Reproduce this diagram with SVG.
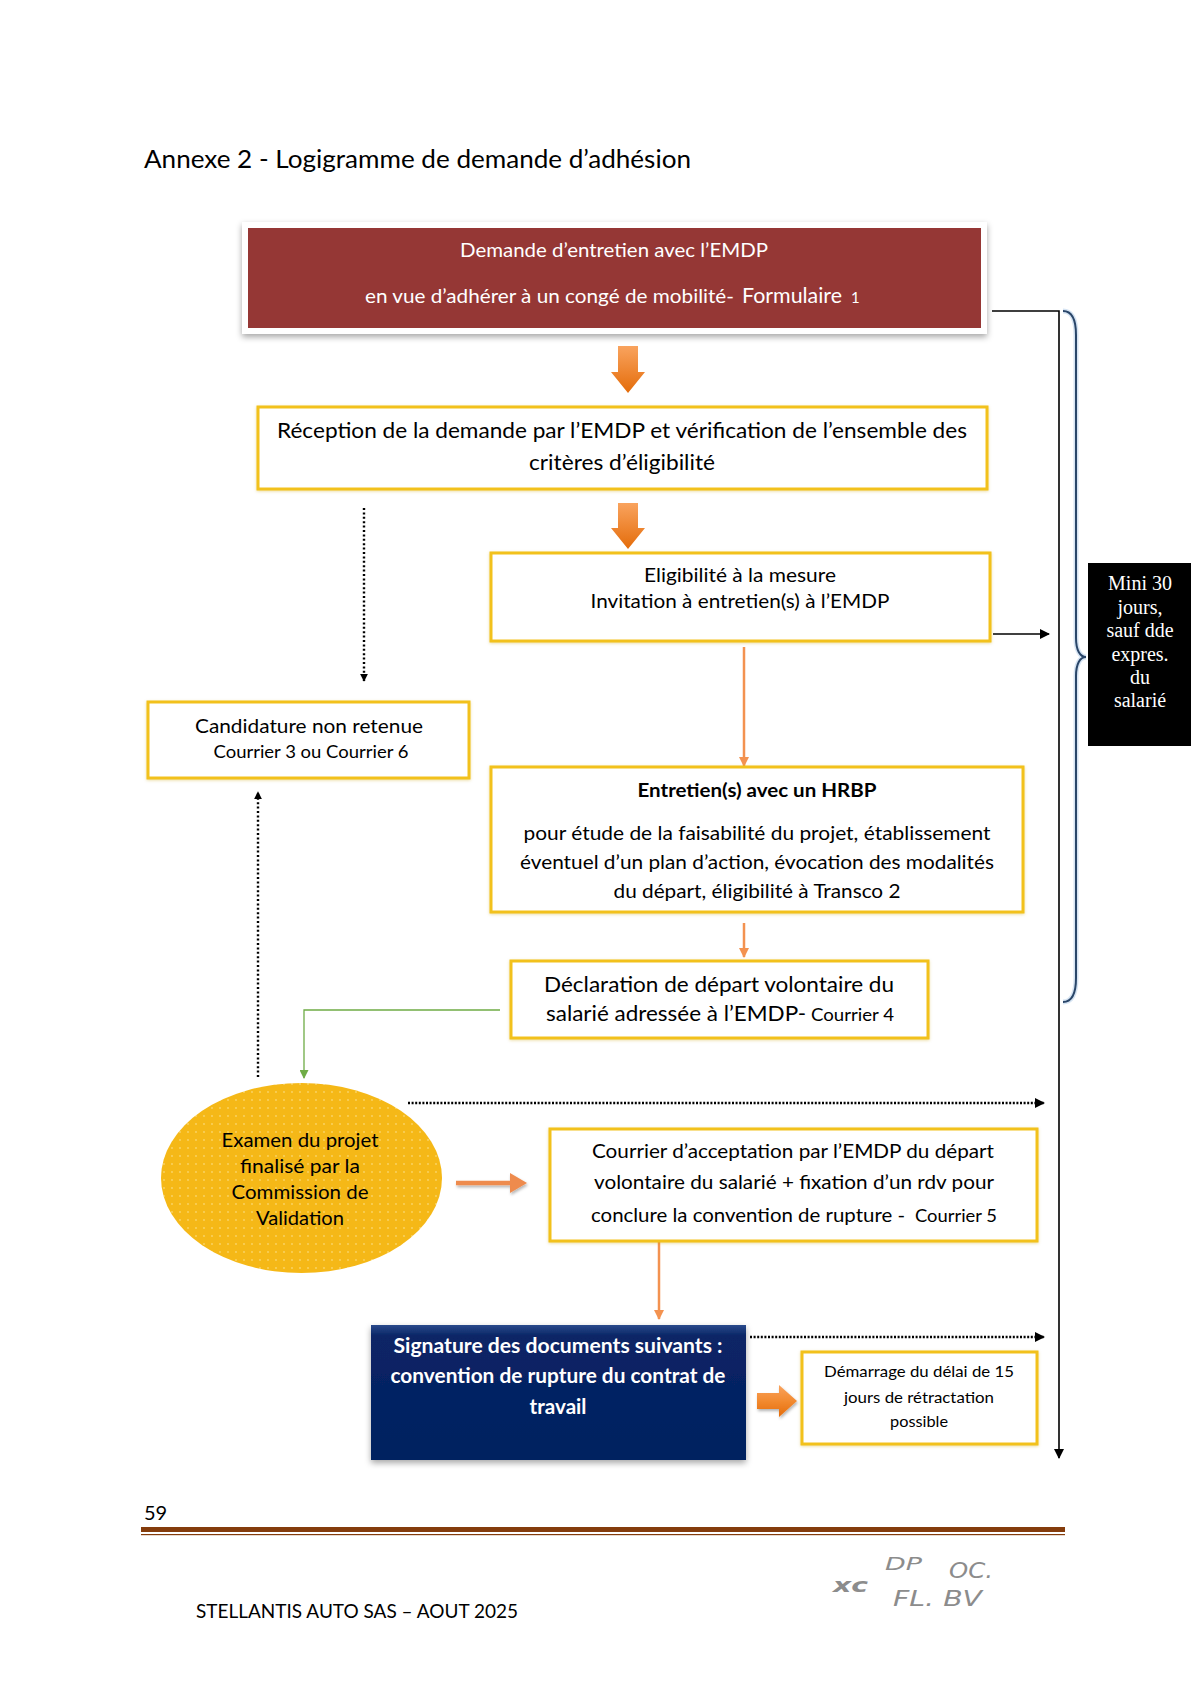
<svg xmlns="http://www.w3.org/2000/svg" width="1200" height="1696" viewBox="0 0 1200 1696">
<defs>
<style>
.t{font-family:Lato,'Liberation Sans',sans-serif;fill:#000}
.w{fill:#fff}
.box{fill:#fff;stroke:#F2C11C;stroke-width:3}
.dot{fill:none;stroke:#000;stroke-width:2.4;stroke-dasharray:2 2.4}
.doth{fill:none;stroke:#000;stroke-width:2.6;stroke-dasharray:2 1.6}
.ol{fill:none;stroke:#F39250;stroke-width:2.5}
.blk{fill:none;stroke:#000;stroke-width:1.6}
.serif{font-family:'Liberation Serif','Times New Roman',serif;fill:#fff;font-size:20px}
.hand{font-family:'DejaVu Sans',sans-serif;fill:#8c8c8c;font-style:italic}
</style>
<marker id="ab" viewBox="0 0 10 10" refX="9" refY="5" markerWidth="8" markerHeight="8" markerUnits="userSpaceOnUse" orient="auto"><path d="M0,0 L10,5 L0,10 Z" fill="#000"/></marker>
<marker id="abl" viewBox="0 0 10 10" refX="9" refY="5" markerWidth="10" markerHeight="10" markerUnits="userSpaceOnUse" orient="auto"><path d="M0,0 L10,5 L0,10 Z" fill="#000"/></marker>
<marker id="ao" viewBox="0 0 10 10" refX="9" refY="5" markerWidth="12" markerHeight="10" markerUnits="userSpaceOnUse" orient="auto"><path d="M0,0 L10,5 L0,10 Z" fill="#F39250"/></marker>
<marker id="ag" viewBox="0 0 10 10" refX="9" refY="5" markerWidth="10" markerHeight="9" markerUnits="userSpaceOnUse" orient="auto"><path d="M0,0 L10,5 L0,10 Z" fill="#6FAC46"/></marker>
<filter id="sh" x="-10%" y="-20%" width="120%" height="150%"><feDropShadow dx="0" dy="3" stdDeviation="3" flood-color="#000" flood-opacity="0.35"/></filter>
<filter id="sh2" x="-10%" y="-20%" width="120%" height="150%"><feDropShadow dx="0" dy="1" stdDeviation="1.5" flood-color="#C9A000" flood-opacity="0.35"/></filter>
<filter id="sh3" x="-20%" y="-50%" width="140%" height="200%"><feDropShadow dx="1" dy="2" stdDeviation="1.5" flood-color="#000" flood-opacity="0.3"/></filter>
<linearGradient id="og" x1="0" y1="0" x2="0" y2="1"><stop offset="0" stop-color="#F9A35E"/><stop offset="1" stop-color="#E46C0A"/></linearGradient>
<linearGradient id="ogh" x1="0" y1="0" x2="0" y2="1"><stop offset="0" stop-color="#F9A35E"/><stop offset="0.5" stop-color="#F28A30"/><stop offset="1" stop-color="#E46C0A"/></linearGradient>
<linearGradient id="ng" x1="0" y1="0" x2="0" y2="1"><stop offset="0" stop-color="#2A4A8C"/><stop offset="0.08" stop-color="#0A2566"/><stop offset="1" stop-color="#002060"/></linearGradient>
<pattern id="dots" width="8" height="8" patternUnits="userSpaceOnUse"><rect width="8" height="8" fill="#F5B817"/><circle cx="4" cy="4" r="0.9" fill="#FAD568"/></pattern>
</defs>

<!-- page title -->
<text class="t" x="144" y="168" font-size="24.5" textLength="547" lengthAdjust="spacingAndGlyphs">Annexe 2 - Logigramme de demande d’adhésion</text>

<!-- connectors -->
<g id="connectors">
  <path d="M618,346 H638 V372 H645 L628,393 L611,372 H618 Z" fill="url(#og)"/>
  <path d="M618,503 H638 V528 H645 L628,549 L611,528 H618 Z" fill="url(#og)"/>
  <path d="M992,311 H1059 V1458" class="blk" marker-end="url(#abl)"/>
  <path d="M993,634 H1049" class="blk" marker-end="url(#abl)"/>
  <path d="M1063,311 C1072,311 1076,320 1076,335 V638 C1076,650 1080,657 1086,657 C1080,657 1076,664 1076,676 V978 C1076,993 1072,1002 1063,1002" fill="none" stroke="#D6E4F3" stroke-width="5"/>
  <path d="M1063,311 C1072,311 1076,320 1076,335 V638 C1076,650 1080,657 1086,657 C1080,657 1076,664 1076,676 V978 C1076,993 1072,1002 1063,1002" fill="none" stroke="#2A4669" stroke-width="2"/>
  <path d="M364,508 V681" class="dot" marker-end="url(#ab)"/>
  <path d="M744,647 V766" class="ol" marker-end="url(#ao)"/>
  <path d="M258,1077 V792" class="dot" marker-end="url(#ab)"/>
  <path d="M744,923 V957" class="ol" stroke-width="3" marker-end="url(#ao)"/>
  <path d="M500,1010 H304 V1078" fill="none" stroke="#6FAC46" stroke-width="1.3" marker-end="url(#ag)"/>
  <path d="M408,1103 H1044" class="doth" marker-end="url(#abl)"/>
  <g filter="url(#sh3)">
    <path d="M456,1183 H512" fill="none" stroke="#EE8B4E" stroke-width="4.5"/>
    <path d="M510,1173 L527,1183 L510,1193 Z" fill="#EE8B4E"/>
  </g>
  <path d="M659,1241 V1319" class="ol" stroke-width="1.5" marker-end="url(#ao)"/>
  <path d="M750,1337 H1044" class="doth" marker-end="url(#abl)"/>
  <path d="M757,1393 H779 V1385 L797,1401 L779,1417 V1409 H757 Z" fill="url(#ogh)" filter="url(#sh3)"/>
</g>

<!-- node: demande -->
<g id="n-demande">
  <rect x="242" y="222" width="745" height="112" fill="#fff" filter="url(#sh)"/>
  <rect x="248" y="228" width="733" height="100" fill="#953735"/>
  <text class="t w" x="614" y="257" font-size="19" text-anchor="middle" textLength="308" lengthAdjust="spacingAndGlyphs">Demande d’entretien avec l’EMDP</text>
  <text class="t w" x="365" y="303" font-size="19" textLength="369" lengthAdjust="spacingAndGlyphs">en vue d’adhérer à un congé de mobilité-</text>
  <text class="t w" x="742" y="303" font-size="21.5" textLength="100" lengthAdjust="spacingAndGlyphs">Formulaire</text>
  <text class="t w" x="851" y="303" font-size="15">1</text>
</g>

<!-- node: reception -->
<g id="n-reception">
  <rect x="258" y="407" width="729" height="82" class="box" filter="url(#sh2)"/>
  <text class="t" x="622" y="438" font-size="20.5" text-anchor="middle" textLength="690" lengthAdjust="spacingAndGlyphs">Réception de la demande par l’EMDP et vérification de l’ensemble des</text>
  <text class="t" x="622" y="470" font-size="20.5" text-anchor="middle" textLength="186" lengthAdjust="spacingAndGlyphs">critères d’éligibilité</text>
</g>

<!-- node: eligibilite -->
<g id="n-eligibilite">
  <rect x="491" y="553" width="499" height="88" class="box" filter="url(#sh2)"/>
  <text class="t" x="740" y="582" font-size="19" text-anchor="middle" textLength="192" lengthAdjust="spacingAndGlyphs">Eligibilité à la mesure</text>
  <text class="t" x="740" y="608" font-size="19" text-anchor="middle" textLength="299" lengthAdjust="spacingAndGlyphs">Invitation à entretien(s) à l’EMDP</text>
</g>

<!-- node: mini 30 jours -->
<g id="n-mini30">
  <rect x="1088" y="563" width="103" height="183" fill="#000"/>
  <text class="serif" x="1140" y="590" text-anchor="middle">Mini 30</text>
  <text class="serif" x="1140" y="613.5" text-anchor="middle">jours,</text>
  <text class="serif" x="1140" y="637" text-anchor="middle">sauf dde</text>
  <text class="serif" x="1140" y="660.5" text-anchor="middle">expres.</text>
  <text class="serif" x="1140" y="684" text-anchor="middle">du</text>
  <text class="serif" x="1140" y="707" text-anchor="middle">salarié</text>
</g>

<!-- node: candidature non retenue -->
<g id="n-candidature">
  <rect x="148" y="702" width="321" height="76" class="box" stroke-width="4" filter="url(#sh2)"/>
  <text class="t" x="309" y="733" font-size="19" text-anchor="middle" textLength="228" lengthAdjust="spacingAndGlyphs">Candidature non retenue</text>
  <text class="t" x="311" y="758" font-size="16.5" text-anchor="middle" textLength="195" lengthAdjust="spacingAndGlyphs">Courrier 3 ou Courrier 6</text>
</g>

<!-- node: HRBP -->
<g id="n-hrbp">
  <rect x="491" y="767" width="532" height="145" class="box" filter="url(#sh2)"/>
  <text class="t" x="757" y="797" font-size="19" font-weight="bold" text-anchor="middle" textLength="239" lengthAdjust="spacingAndGlyphs">Entretien(s) avec un HRBP</text>
  <text class="t" x="757" y="840" font-size="19" text-anchor="middle" textLength="467" lengthAdjust="spacingAndGlyphs">pour étude de la faisabilité du projet, établissement</text>
  <text class="t" x="757" y="869" font-size="19" text-anchor="middle" textLength="474" lengthAdjust="spacingAndGlyphs">éventuel d’un plan d’action, évocation des modalités</text>
  <text class="t" x="757" y="898" font-size="19" text-anchor="middle" textLength="287" lengthAdjust="spacingAndGlyphs">du départ, éligibilité à Transco 2</text>
</g>

<!-- node: declaration -->
<g id="n-declaration">
  <rect x="511" y="961" width="417" height="77" class="box" filter="url(#sh2)"/>
  <text class="t" x="719" y="992" font-size="21" text-anchor="middle" textLength="350" lengthAdjust="spacingAndGlyphs">Déclaration de départ volontaire du</text>
  <text class="t" x="546" y="1021" font-size="21" textLength="260" lengthAdjust="spacingAndGlyphs">salarié adressée à l’EMDP-</text>
  <text class="t" x="811" y="1021" font-size="16.5" textLength="83" lengthAdjust="spacingAndGlyphs">Courrier 4</text>
</g>

<!-- node: commission (ellipse) -->
<g id="n-commission">
  <ellipse cx="301.5" cy="1178" rx="140.5" ry="95" fill="url(#dots)"/>
  <text class="t" x="300" y="1147" font-size="19.5" text-anchor="middle" fill="#2B2100" textLength="157" lengthAdjust="spacingAndGlyphs">Examen du projet</text>
  <text class="t" x="300" y="1173" font-size="19.5" text-anchor="middle" fill="#2B2100" textLength="120" lengthAdjust="spacingAndGlyphs">finalisé par la</text>
  <text class="t" x="300" y="1199" font-size="19.5" text-anchor="middle" fill="#2B2100" textLength="137" lengthAdjust="spacingAndGlyphs">Commission de</text>
  <text class="t" x="300" y="1225" font-size="19.5" text-anchor="middle" fill="#2B2100" textLength="88" lengthAdjust="spacingAndGlyphs">Validation</text>
</g>

<!-- node: courrier acceptation -->
<g id="n-acceptation">
  <rect x="550" y="1129" width="487" height="112" class="box" filter="url(#sh2)"/>
  <text class="t" x="793" y="1158" font-size="19" text-anchor="middle" textLength="402" lengthAdjust="spacingAndGlyphs">Courrier d’acceptation par l’EMDP du départ</text>
  <text class="t" x="794" y="1189" font-size="19" text-anchor="middle" textLength="400" lengthAdjust="spacingAndGlyphs">volontaire du salarié + fixation d’un rdv pour</text>
  <text class="t" x="591" y="1222" font-size="19" textLength="314" lengthAdjust="spacingAndGlyphs">conclure la convention de rupture -</text>
  <text class="t" x="915" y="1222" font-size="16.5" textLength="82" lengthAdjust="spacingAndGlyphs">Courrier 5</text>
</g>

<!-- node: signature -->
<g id="n-signature">
  <rect x="371" y="1325" width="375" height="135" fill="url(#ng)" filter="url(#sh)"/>
  <text class="t w" x="558" y="1353" font-size="20" font-weight="bold" text-anchor="middle" textLength="329" lengthAdjust="spacingAndGlyphs">Signature des documents suivants :</text>
  <text class="t w" x="558" y="1383" font-size="20" font-weight="bold" text-anchor="middle" textLength="335" lengthAdjust="spacingAndGlyphs">convention de rupture du contrat de</text>
  <text class="t w" x="558" y="1414" font-size="20" font-weight="bold" text-anchor="middle" textLength="57" lengthAdjust="spacingAndGlyphs">travail</text>
</g>

<!-- node: demarrage -->
<g id="n-demarrage">
  <rect x="802" y="1352" width="235" height="92" class="box" filter="url(#sh2)"/>
  <text class="t" x="919" y="1377" font-size="16" text-anchor="middle" textLength="190" lengthAdjust="spacingAndGlyphs">Démarrage du délai de 15</text>
  <text class="t" x="919" y="1403" font-size="16" text-anchor="middle" textLength="150" lengthAdjust="spacingAndGlyphs">jours de rétractation</text>
  <text class="t" x="919" y="1427" font-size="16" text-anchor="middle" textLength="58" lengthAdjust="spacingAndGlyphs">possible</text>
</g>

<!-- footer -->
<text class="t" x="144" y="1520" font-size="20">59</text>
<rect x="141" y="1527" width="924" height="5" fill="#843C0C"/>
<rect x="141" y="1534" width="924" height="1.2" fill="#843C0C"/>
<text class="hand" x="833" y="1592" font-size="19" font-weight="bold" fill="#6e6e6e" textLength="35" lengthAdjust="spacingAndGlyphs">xc</text>
<text class="hand" x="885" y="1570" font-size="18" textLength="37" lengthAdjust="spacingAndGlyphs">DP</text>
<text class="hand" x="949" y="1578" font-size="22" textLength="44" lengthAdjust="spacingAndGlyphs">OC.</text>
<text class="hand" x="893" y="1606" font-size="22" textLength="89" lengthAdjust="spacingAndGlyphs">FL. BV</text>
<text class="t" x="196" y="1618" font-size="20" textLength="322" lengthAdjust="spacingAndGlyphs">STELLANTIS AUTO SAS – AOUT 2025</text>
</svg>
